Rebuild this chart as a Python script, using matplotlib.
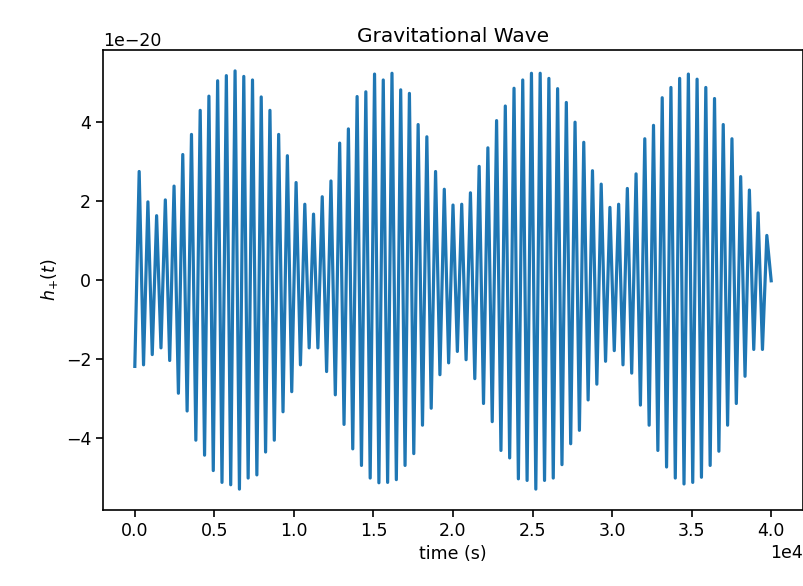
import matplotlib
matplotlib.use("Agg")
import matplotlib.pyplot as plt
import numpy as np

# strain samples h+(t), in units of 1e-20 (alternating troughs/crests)
h_plus = [
    -2.19, 2.75, -2.15, 1.98, -1.89, 1.63, -1.72, 2.03, -2.04, 2.38,
    -2.87, 3.18, -3.32, 3.69, -4.06, 4.30, -4.44, 4.66, -4.83, 5.05,
    -5.13, 5.18, -5.19, 5.30, -5.30, 5.16, -5.02, 5.07, -4.94, 4.64,
    -4.36, 4.30, -4.06, 3.69, -3.34, 3.15, -2.83, 2.47, -2.15, 1.92,
    -1.72, 1.67, -1.72, 2.11, -2.32, 2.51, -2.91, 3.47,
    -3.66, 3.83, -4.28, 4.65, -4.70, 4.77, -5.02, 5.22, -5.14, 5.07,
    -5.13, 5.24, -5.06, 4.82, -4.70, 4.73, -4.40, 3.94, -3.68, 3.63,
    -3.25, 2.75, -2.40, 2.30, -2.10, 1.90, -1.81, 1.92, -2.02, 2.21,
    -2.50, 2.88, -3.13, 3.35, -3.59, 4.04, -4.32, 4.41, -4.51, 4.86,
    -5.04, 5.07, -5.08, 5.24, -5.30, 5.24, -5.08, 5.11, -5.02, 4.85,
    -4.68, 4.50, -4.15,
    4.00, -3.81, 3.49, -3.04, 2.77, -2.64, 2.43, -2.06, 1.84, -1.79,
    1.92, -2.15, 2.32, -2.36, 2.69, -3.17, 3.58, -3.68, 3.92, -4.32,
    4.62, -4.74, 4.88, -5.02, 5.11, -5.17, 5.22, -5.13, 5.09, -5.00,
    4.88, -4.70, 4.60, -4.34, 3.94, -3.68, 3.58, -3.13, 2.62, -2.44,
    2.28, -1.76, 1.70, -1.76, 1.13, -0.02,
]
t_start = 0.0
t_end = 40000.0

h = np.array(h_plus) * 1e-20
t = np.linspace(t_start, t_end, len(h))

fig = plt.figure(figsize=(8.04, 5.86), dpi=100)
ax = fig.add_axes([103 / 804, 76 / 586, 700 / 804, 460 / 586])
ax.plot(t, h, color="#1f77b4", lw=2.3)

ax.set_title("Gravitational Wave", fontsize=14.5)
ax.set_xlabel("time (s)", fontsize=12.5)
ax.set_ylabel("$h_{+}(t)$", fontsize=12.5)
ax.ticklabel_format(axis="x", style="sci", scilimits=(0, 0))
ax.set_yticks([-4e-20, -2e-20, 0, 2e-20, 4e-20])
ax.tick_params(labelsize=12.5, length=5, width=1.2)
for s in ax.spines.values():
    s.set_linewidth(1.2)
ax.xaxis.get_offset_text().set_fontsize(12.5)
ax.yaxis.get_offset_text().set_fontsize(12.5)

fig.savefig("out.png", dpi=100)
